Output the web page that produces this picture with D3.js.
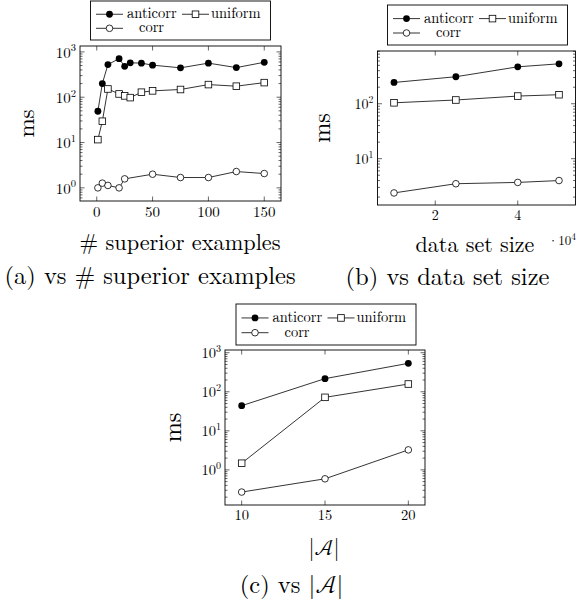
<!DOCTYPE html>
<html>
<head>
    <meta charset="utf-8">
    <title>ms plots</title>
    <script src="https://cdn.jsdelivr.net/npm/d3@7/dist/d3.min.js"></script>
    <style>
        body { margin: 0; background: #fff; }
    </style>
</head>
<body>
<div id="chart"></div>
<script>
    var width = 576,
        height = 601;

    // series names (legend order)
    var seriesNames = ["anticorr", "uniform", "corr"];

    // (a) vs # superior examples
    var supX        = [1, 5, 10, 20, 25, 30, 40, 50, 75, 100, 125, 150];
    var supAnticorr = [49, 200, 525, 710, 480, 575, 565, 510, 445, 565, 450, 590];
    var supUniform  = [11.6, 29.5, 152, 118, 107, 98, 129, 138, 148, 190, 175, 210];
    var supCorrX    = [1, 5, 10, 20, 25, 50, 75, 100, 125, 150];
    var supCorr     = [1.0, 1.27, 1.13, 1.0, 1.58, 2.0, 1.69, 1.69, 2.29, 2.07];

    // (b) vs data set size (x in units of 10^4)
    var sizeX        = [1, 2.5, 4, 5];
    var sizeAnticorr = [244, 310, 470, 533];
    var sizeUniform  = [104, 117, 138, 146];
    var sizeCorr     = [2.38, 3.5, 3.7, 4.0];

    // (c) vs |A|
    var attrX        = [10, 15, 20];
    var attrAnticorr = [44, 217, 535];
    var attrUniform  = [1.48, 72, 158];
    var attrCorr     = [0.27, 0.59, 3.25];

    // ticks
    var supXTicks  = [0, 50, 100, 150];
    var supYTicks  = [1, 10, 100, 1000];
    var sizeXTicks = [2, 4];
    var sizeYTicks = [10, 100];
    var attrXTicks = [10, 15, 20];
    var attrYTicks = [1, 10, 100, 1000];

    var svg = d3.select("#chart").append("svg")
        .attr("width", width)
        .attr("height", height)
        .style("font-family", "'Latin Modern Roman', 'Liberation Serif', serif");

    function drawPanel(p) {
        var g = svg.append("g");
        var x = d3.scaleLinear().domain(p.xDomain).range([p.left, p.right]);
        var y = d3.scaleLog().domain(p.yDomain).range([p.bottom, p.top]);

        // minor log ticks
        var minors = [];
        var lo = Math.floor(Math.log10(p.yDomain[0])), hi = Math.ceil(Math.log10(p.yDomain[1]));
        for (var d = lo; d < hi; d++) {
            for (var k = 2; k <= 9; k++) {
                var v = k * Math.pow(10, d);
                if (v > p.yDomain[0] && v < p.yDomain[1]) minors.push(v);
            }
        }
        var tk = g.append("g").attr("stroke", "#000").attr("stroke-width", 0.6);
        minors.forEach(function(v){
            tk.append("line").attr("x1", p.left).attr("x2", p.left + 2.5).attr("y1", y(v)).attr("y2", y(v));
            tk.append("line").attr("x1", p.right).attr("x2", p.right - 2.5).attr("y1", y(v)).attr("y2", y(v));
        });
        p.yTicks.forEach(function(v){
            tk.append("line").attr("x1", p.left).attr("x2", p.left + 4.5).attr("y1", y(v)).attr("y2", y(v));
            tk.append("line").attr("x1", p.right).attr("x2", p.right - 4.5).attr("y1", y(v)).attr("y2", y(v));
        });
        p.xTicks.forEach(function(v){
            tk.append("line").attr("x1", x(v)).attr("x2", x(v)).attr("y1", p.bottom).attr("y2", p.bottom - 4.5);
            tk.append("line").attr("x1", x(v)).attr("x2", x(v)).attr("y1", p.top).attr("y2", p.top + 4.5);
        });

        // frame
        g.append("rect")
            .attr("x", p.left).attr("y", p.top)
            .attr("width", p.right - p.left).attr("height", p.bottom - p.top)
            .attr("fill", "none").attr("stroke", "#000").attr("stroke-width", 0.9);

        // tick labels
        g.selectAll(".xl").data(p.xTicks).enter().append("text")
            .attr("x", function(d){ return x(d); })
            .attr("y", p.bottom + p.tickFont + 0.5)
            .attr("text-anchor", "middle")
            .style("font-size", p.tickFont + "px")
            .text(function(d){ return d; });

        var yl = g.selectAll(".yl").data(p.yTicks).enter().append("text")
            .attr("x", p.left - 4)
            .attr("y", function(d){ return y(d) + p.tickFont * 0.38; })
            .attr("text-anchor", "end")
            .style("font-size", p.tickFont + "px");
        yl.append("tspan").text("10");
        yl.append("tspan")
            .attr("dy", -p.tickFont * 0.42)
            .style("font-size", (p.tickFont * 0.7) + "px")
            .text(function(d){ return Math.round(Math.log10(d)); });

        // lines + markers
        var line = d3.line().x(function(d){ return x(d[0]); }).y(function(d){ return y(d[1]); });
        p.series.forEach(function(s){
            var pts = d3.zip(s.x, s.y);
            g.append("path").datum(pts)
                .attr("d", line)
                .attr("fill", "none").attr("stroke", "#000").attr("stroke-width", 0.8);
            pts.forEach(function(pt){
                marker(g, s.name, x(pt[0]), y(pt[1]));
            });
        });

        // y label
        g.append("text")
            .attr("transform", "translate(" + p.yLabelX + "," + ((p.top + p.bottom) / 2) + ") rotate(-90)")
            .attr("text-anchor", "middle")
            .attr("dy", "0.3em")
            .style("font-size", p.labelFont + "px")
            .text("ms");

        // legend
        var lg = g.append("g");
        lg.append("rect")
            .attr("x", p.legend[0]).attr("y", p.legend[1])
            .attr("width", p.legend[2]).attr("height", p.legend[3])
            .attr("fill", "#fff").attr("stroke", "#000").attr("stroke-width", 0.9);
        var lx = p.legend[0], ly = p.legend[1], lh = p.legend[3];
        var row1 = ly + lh * 0.34, row2 = ly + lh * 0.7;
        var ent = [
            {name: seriesNames[0], x0: lx + 5.5,  y0: row1, tx: lx + 36.5, anchor: "start"},
            {name: seriesNames[1], x0: lx + 91.5, y0: row1, tx: lx + 120.5, anchor: "start"},
            {name: seriesNames[2], x0: lx + 5.5,  y0: row2, tx: lx + 61, anchor: "middle"}
        ];
        ent.forEach(function(e){
            lg.append("line").attr("x1", e.x0).attr("x2", e.x0 + 27)
                .attr("y1", e.y0).attr("y2", e.y0)
                .attr("stroke", "#000").attr("stroke-width", 0.8);
            marker(lg, e.name, e.x0 + 13.5, e.y0);
            lg.append("text").attr("x", e.tx).attr("y", e.y0 + 4)
                .attr("text-anchor", e.anchor)
                .style("font-size", "14.5px")
                .text(e.name);
        });
    }

    function marker(g, name, cx, cy) {
        if (name == "anticorr") {
            g.append("circle").attr("cx", cx).attr("cy", cy).attr("r", 3.4).attr("fill", "#000");
        } else if (name == "uniform") {
            g.append("rect").attr("x", cx - 3.3).attr("y", cy - 3.3).attr("width", 6.6).attr("height", 6.6)
                .attr("fill", "#fff").attr("stroke", "#000").attr("stroke-width", 0.8);
        } else {
            g.append("circle").attr("cx", cx).attr("cy", cy).attr("r", 3.3)
                .attr("fill", "#fff").attr("stroke", "#000").attr("stroke-width", 0.8);
        }
    }

    // (a)
    drawPanel({
        left: 80, right: 281, top: 46, bottom: 201,
        xDomain: [-15, 165], yDomain: [Math.pow(10, -0.29), Math.pow(10, 3.13)],
        xTicks: supXTicks, yTicks: supYTicks, tickFont: 15, labelFont: 23, yLabelX: 27,
        legend: [90.5, 1, 180, 39],
        series: [
            {name: "anticorr", x: supX, y: supAnticorr},
            {name: "uniform", x: supX, y: supUniform},
            {name: "corr", x: supCorrX, y: supCorr}
        ]
    });

    // (b)
    drawPanel({
        left: 377.5, right: 575.5, top: 51, bottom: 205,
        xDomain: [0.6, 5.4], yDomain: [Math.pow(10, 0.157), Math.pow(10, 2.96)],
        xTicks: sizeXTicks, yTicks: sizeYTicks, tickFont: 14, labelFont: 24, yLabelX: 323,
        legend: [387.5, 5, 180, 40],
        series: [
            {name: "anticorr", x: sizeX, y: sizeAnticorr},
            {name: "uniform", x: sizeX, y: sizeUniform},
            {name: "corr", x: sizeX, y: sizeCorr}
        ]
    });

    // (c)
    drawPanel({
        left: 225, right: 425, top: 350, bottom: 505,
        xDomain: [9, 21], yDomain: [Math.pow(10, -0.9), Math.pow(10, 3.07)],
        xTicks: attrXTicks, yTicks: attrYTicks, tickFont: 14.5, labelFont: 24, yLabelX: 174,
        legend: [236, 304, 180, 41],
        series: [
            {name: "anticorr", x: attrX, y: attrAnticorr},
            {name: "uniform", x: attrX, y: attrUniform},
            {name: "corr", x: attrX, y: attrCorr}
        ]
    });

    // axis labels and captions
    svg.append("text").attr("x", 180).attr("y", 250).attr("text-anchor", "middle")
        .style("font-size", "22.3px").text("# superior examples");
    svg.append("text").attr("x", 150).attr("y", 284).attr("text-anchor", "middle")
        .style("font-size", "24.5px").text("(a) vs # superior examples");

    svg.append("text").attr("x", 475).attr("y", 252).attr("text-anchor", "middle")
        .style("font-size", "22px").text("data set size");
    var mult = svg.append("text").attr("x", 576).attr("y", 245)
        .attr("text-anchor", "end").style("font-size", "13px");
    mult.append("tspan").text("\u00b710");
    mult.append("tspan").attr("dy", -5).style("font-size", "9.5px").text("4");
    svg.append("text").attr("x", 447.5).attr("y", 285).attr("text-anchor", "middle")
        .style("font-size", "24.5px").text("(b) vs data set size");

    var absA = svg.append("text").attr("x", 324).attr("y", 555).attr("text-anchor", "middle")
        .style("font-size", "22px");
    absA.append("tspan").text("|");
    absA.append("tspan").style("font-family", "'Latin Modern Math', 'Latin Modern Roman', serif").text("\ud835\udc9c");
    absA.append("tspan").text("|");
    var capC = svg.append("text").attr("x", 291.5).attr("y", 593).attr("text-anchor", "middle")
        .style("font-size", "24.5px");
    capC.append("tspan").text("(c) vs |");
    capC.append("tspan").style("font-family", "'Latin Modern Math', 'Latin Modern Roman', serif").text("\ud835\udc9c");
    capC.append("tspan").text("|");
</script>
</body>
</html>
